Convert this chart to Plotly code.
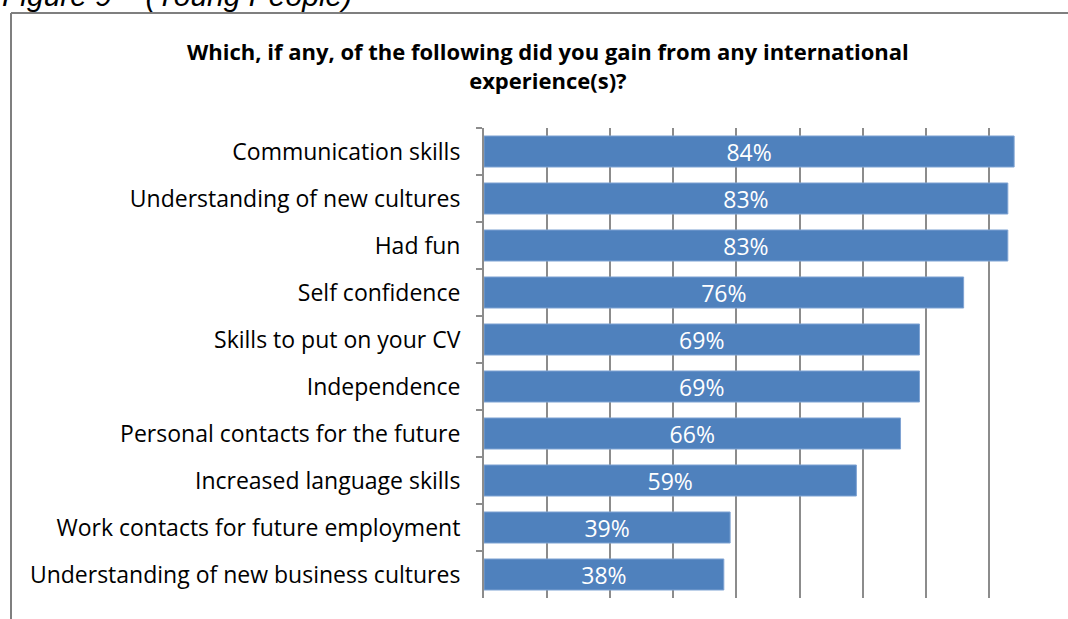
import plotly.graph_objects as go

# Survey results: benefits gained from international experience (percent of respondents)
categories = [
    "Communication skills",
    "Understanding of new cultures",
    "Had fun",
    "Self confidence",
    "Skills to put on your CV",
    "Independence",
    "Personal contacts for the future",
    "Increased language skills",
    "Work contacts for future employment",
    "Understanding of new business cultures",
]
values = [84, 83, 83, 76, 69, 69, 66, 59, 39, 38]
value_labels = [f"{v}%" for v in values]

W, H = 1068, 619
FONT = "Open Sans"
BAR = "#4F81BD"
GRID = "#8c8c8c"


def px(x):
    return x / W


def py(y):
    return 1 - y / H


fig = go.Figure(
    go.Bar(
        x=values,
        y=categories,
        orientation="h",
        text=value_labels,
        textposition="inside",
        insidetextanchor="middle",
        textangle=0,
        textfont=dict(family=FONT, size=23, color="white"),
        marker=dict(color=BAR, line=dict(color="#7fa3d3", width=1)),
        width=0.66,
        hoverinfo="skip",
    )
)

fig.update_layout(
    width=W,
    height=H,
    margin=dict(l=0, r=0, t=0, b=0),
    paper_bgcolor="white",
    plot_bgcolor="white",
    showlegend=False,
    font=dict(family=FONT, color="black"),
    uniformtext=dict(minsize=23, mode="show"),
    xaxis=dict(
        domain=[px(484), px(1052)],
        range=[0, 90],
        dtick=10,
        showgrid=True,
        gridcolor=GRID,
        gridwidth=2,
        zeroline=False,
        showticklabels=False,
        ticks="",
        fixedrange=True,
    ),
    yaxis=dict(
        domain=[py(598), py(128)],
        autorange="reversed",
        showline=True,
        linecolor=GRID,
        linewidth=2,
        ticks="outside",
        tickson="boundaries",
        ticklen=6,
        tickwidth=2,
        tickcolor=GRID,
        ticklabelstandoff=17,
        tickfont=dict(family=FONT, size=23, color="black"),
        showgrid=False,
        fixedrange=True,
    ),
    shapes=[
        # frame around the chart (top and left edges visible)
        dict(type="line", xref="paper", yref="paper",
             x0=px(11), x1=1.01, y0=py(13), y1=py(13),
             line=dict(color="#7f7f7f", width=2)),
        dict(type="line", xref="paper", yref="paper",
             x0=px(11), x1=px(11), y0=py(13), y1=-0.01,
             line=dict(color="#7f7f7f", width=2)),
    ],
    annotations=[
        dict(
            text="<i>Figure 9 – (Young People)</i>",
            xref="paper", yref="paper",
            x=0, y=py(14), xanchor="left", yanchor="bottom",
            showarrow=False,
            font=dict(family="Liberation Sans", size=30, color="black"),
        ),
        dict(
            text="<b>Which, if any, of the following did you gain from any international<br>experience(s)?</b>",
            xref="paper", yref="paper",
            x=px(548), y=py(65), xanchor="center", yanchor="middle",
            showarrow=False,
            align="center",
            font=dict(family=FONT, size=22, color="black"),
        ),
    ],
)

fig.write_html("out.html")
